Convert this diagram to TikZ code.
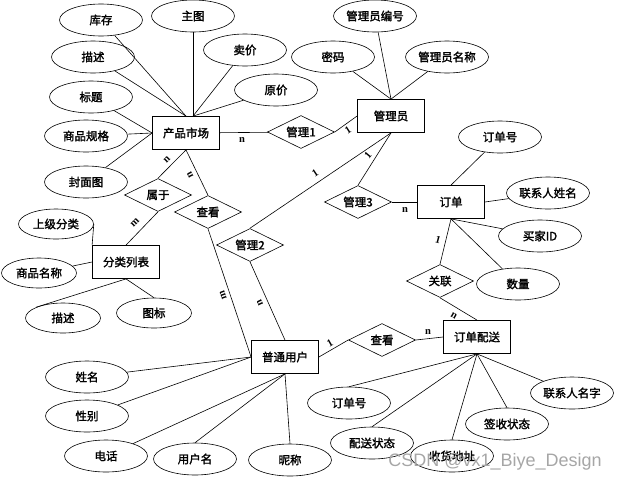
\documentclass[tikz,border=0pt]{standalone}
\usepackage{fontspec}
\setmainfont{Liberation Serif}
\newfontfamily\cjk{Noto Sans CJK SC}[FakeBold=1.8]
\newfontfamily\wmfont{Liberation Sans}
\usepackage{tikz}
\usetikzlibrary{shapes.geometric}
\tikzset{
	entity/.style={draw, line width=0.8pt, rectangle, minimum width=67pt, minimum height=33pt, inner sep=0pt, font=\cjk\fontsize{11.5}{12}\selectfont},
	attr/.style={draw, line width=0.6pt, ellipse, minimum width=83pt, minimum height=32pt, inner sep=0pt, font=\cjk\fontsize{11.5}{12}\selectfont},
	smallattr/.style={attr, minimum width=75pt, minimum height=30pt},
	rel/.style={draw, line width=0.6pt, diamond, aspect=2, minimum width=67pt, minimum height=33pt, inner sep=0pt, font=\cjk\fontsize{11.5}{12}\selectfont},
	card/.style={inner sep=0pt, font=\bfseries\fontsize{10.5}{10.5}\selectfont},
	link/.style={line width=0.6pt},
}

\begin{document}
\begin{tikzpicture}[x=1pt, y=-1pt]
			%%%%% START %%%%%
			\useasboundingbox (0, 0) rectangle (620, 482);
			
			\node[entity] (cpsc) at (186, 133) {产品市场};
			\node[entity] (gly) at (391, 116) {管理员};
			\node[entity] (dd) at (451, 202) {订单};
			\node[entity] (fllb) at (126, 262) {分类列表};
			\node[entity] (ptyh) at (285, 357) {普通用户};
			\node[entity] (ddps) at (477, 337) {订单配送};
			
			\node[rel] (gl1) at (301, 132) {管理1};
			\node[rel] (gl2) at (250, 245) {管理2};
			\node[rel] (gl3) at (358, 202) {管理3};
			\node[rel] (sy) at (158, 195) {属于};
			\node[rel] (ck1) at (208, 212) {查看};
			\node[rel] (ck2) at (382, 340) {查看};
			\node[rel] (guanlian) at (440, 281) {关联};
			
			\node[attr] (kc) at (101, 20) {库存};
			\node[attr] (zt) at (193, 16) {主图};
			\node[attr] (mj) at (245, 50) {卖价};
			\node[attr] (yj) at (276, 90) {原价};
			\node[attr] (ms1) at (93, 57) {描述};
			\node[attr] (bt) at (91, 97) {标题};
			\node[attr] (spgg) at (86, 136) {商品规格};
			\node[attr] (fmt) at (86, 182) {封面图};
			
			\node[attr] (glybh) at (375, 16) {管理员编号};
			\node[attr] (mm) at (333, 57) {密码};
			\node[attr] (glymc) at (447, 57) {管理员名称};
			
			\node[attr] (ddh1) at (500, 137) {订单号};
			\node[attr] (lxrxm) at (548, 193) {联系人姓名};
			\node[attr] (mjid) at (540, 236) {买家ID};
			\node[attr] (sl) at (518, 284) {数量};
			
			\node[smallattr] (sjfl) at (56, 224) {上级分类};
			\node[smallattr] (spmc) at (39, 273) {商品名称};
			\node[smallattr] (ms2) at (63, 318) {描述};
			\node[smallattr] (tb) at (154, 313) {图标};
			
			\node[attr] (xm) at (87, 377) {姓名};
			\node[attr] (xb) at (87, 416) {性别};
			\node[attr] (dh) at (106, 456) {电话};
			\node[attr] (yhm) at (195, 459) {用户名};
			\node[attr] (nc) at (290, 460) {昵称};
			
			\node[attr] (ddh2) at (349, 403) {订单号};
			\node[attr] (pszt) at (372, 443) {配送状态};
			\node[attr] (shdz) at (452, 456) {收货地址};
			\node[attr] (qszt) at (507, 424) {签收状态};
			\node[attr] (lxrmz) at (572, 393) {联系人名字};
			
			% attributes
			\draw[link] (kc) -- (cpsc.north);
			\draw[link] (ms1) -- (cpsc.north);
			\draw[link] (zt) -- ([xshift=7pt]cpsc.north);
			\draw[link] (mj) -- ([xshift=7pt]cpsc.north);
			\draw[link] (yj) -- ([xshift=7pt]cpsc.north);
			\draw[link] (bt) -- (cpsc.west);
			\draw[link] (spgg) -- (cpsc.west);
			\draw[link] (fmt) -- (cpsc.west);
			
			\draw[link] (glybh) -- (gly.north);
			\draw[link] (mm) -- (gly.north);
			\draw[link] (glymc) -- (gly.north);
			
			\draw[link] (ddh1) -- (dd.north);
			\draw[link] (lxrxm) -- (dd.east);
			\draw[link] (dd.south) -- (mjid);
			\draw[link] (dd.south) -- (sl);
			
			\draw[link] (sjfl.east) -- (fllb.north west);
			\draw[link] (spmc) -- (fllb.west);
			\draw[link] (ms2.north west) -- (fllb.south);
			\draw[link] (fllb.south) -- (tb.north);
			
			\draw[link] (xm) -- (ptyh.west);
			\draw[link] (xb) -- (ptyh.west);
			\draw[link] (dh) -- (ptyh.south);
			\draw[link] (yhm.north) -- (ptyh.south);
			\draw[link] (nc.north) -- (ptyh.south);
			
			\draw[link] (ddps.south) -- (ddh2.north);
			\draw[link] (ddps.south) -- (pszt.north);
			\draw[link] (ddps.south) -- (shdz.north);
			\draw[link] (ddps.south) -- (qszt.north);
			\draw[link] (ddps.south) -- (lxrmz);
			
			% relations
			\draw[link] (cpsc) -- (gl1);
			\draw[link] (gl1.east) -- (gly.west);
			\draw[link] (gly.south) -- (gl3.north);
			\draw[link] (gly.south) -- (gl2.north);
			\draw[link] (gl3) -- (dd);
			\draw[link] (dd.south) -- (guanlian.north);
			\draw[link] (guanlian.south) -- (ddps.north);
			\draw[link] (ck2.east) -- (ddps.west);
			\draw[link] (ptyh.east) -- (ck2.west);
			\draw[link] (cpsc.south) -- (sy.north);
			\draw[link] (cpsc.south) -- (ck1.north);
			\draw[link] (sy.south) -- (fllb.north);
			\draw[link] (ck1.south) -- (ptyh.west);
			\draw[link] (gl2.south) -- (ptyh.north);
			
			\node[card] (c1) at (242, 140) {n};
			\node[card, rotate=33] (c2) at (348, 130) {1};
			\node[card, rotate=50] (c3) at (368, 155) {1};
			\node[card, rotate=34] (c4) at (315, 173) {1};
			\node[card] (c5) at (405, 210) {n};
			\node[card, rotate=-15] (c6) at (438, 240) {1};
			\node[card, rotate=-30] (c7) at (454, 316) {n};
			\node[card] (c8) at (428, 332) {n};
			\node[card, rotate=30] (c9) at (330, 343) {1};
			\node[card, rotate=45] (c10) at (167, 160) {n};
			\node[card, rotate=117] (c11) at (190, 175) {n};
			\node[card, rotate=45] (c12) at (135, 223) {m};
			\node[card, rotate=109] (c13) at (223, 295) {m};
			\node[card, rotate=115] (c14) at (260, 303) {n};
			
			\node[font=\wmfont\fontsize{18}{18}\selectfont, text=black!35, inner sep=0pt] (wm) at (495, 462) {CSDN @vx1\_Biye\_Design};
			
			%%%%% END %%%%%
\end{tikzpicture}
\end{document}
